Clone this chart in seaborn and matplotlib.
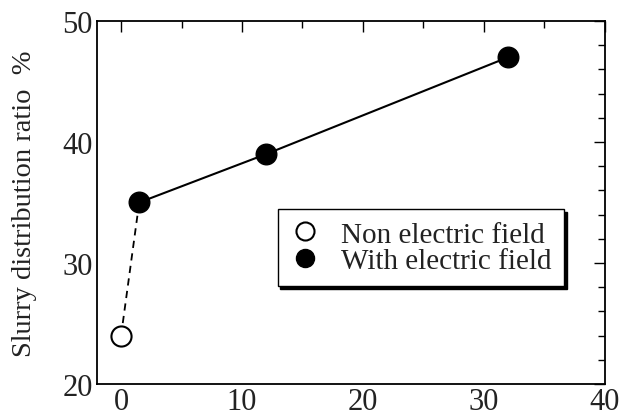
import matplotlib
matplotlib.use("Agg")
import matplotlib.pyplot as plt
import seaborn as sns
import pandas as pd
from matplotlib.lines import Line2D
from matplotlib.ticker import MultipleLocator

# Data
non_x = [0]
non_y = [24]
with_x = [1.5, 12, 32]
with_y = [35, 39, 47]
xticks = [0, 10, 20, 30, 40]
yticks = [20, 30, 40, 50]

sns.set_theme(style="white")
plt.rcParams['font.family'] = ['Liberation Serif', 'DejaVu Serif']
plt.rcParams['mathtext.fontset'] = 'stix'

fig = plt.figure(figsize=(6.21, 4.14), dpi=100)
ax = fig.add_axes([0.156, 0.070, 0.818, 0.877])

dash_df = pd.DataFrame({"x": [non_x[0], with_x[0]], "y": [non_y[0], with_y[0]]})
sns.lineplot(data=dash_df, x="x", y="y", ax=ax, color="black", linestyle=(0, (4, 3)),
             linewidth=1.3, sort=False)
with_df = pd.DataFrame({"x": with_x, "y": with_y})
sns.lineplot(data=with_df, x="x", y="y", ax=ax, color="black", linewidth=1.5, sort=False)
sns.scatterplot(data=with_df, x="x", y="y", ax=ax, color="black", s=220,
                edgecolor="black", linewidth=1, zorder=5)
non_df = pd.DataFrame({"x": non_x, "y": non_y})
sns.scatterplot(data=non_df, x="x", y="y", ax=ax, color="white", s=210,
                edgecolor="black", linewidth=1.5, zorder=5)

ax.set_xlim(-2, 40)
ax.set_ylim(20, 50)
ax.set_xticks(xticks)
ax.set_yticks(yticks)
ax.xaxis.set_minor_locator(MultipleLocator(5))
ax.yaxis.set_minor_locator(MultipleLocator(2))
ax.tick_params(which='both', direction='in', top=True, right=True, color='black',
               width=1.0)
ax.tick_params(which='major', length=8, labelsize=22, pad=3)
ax.tick_params(axis='x', which='major', pad=2)
ax.tick_params(which='minor', length=5)
for s in ax.spines.values():
    s.set_color('black')
    s.set_linewidth(1.3)

ax.set_xlabel("")
ax.set_ylabel("Slurry distribution ratio  %", fontsize=20.5, color='#222222', labelpad=18)
for lab in ax.get_xticklabels() + ax.get_yticklabels():
    lab.set_color('#222222')

handles = [
    Line2D([], [], marker='o', linestyle='none', markerfacecolor='white',
           markeredgecolor='black', markersize=13, markeredgewidth=1.5),
    Line2D([], [], marker='o', linestyle='none', markerfacecolor='black',
           markeredgecolor='black', markersize=13),
]
leg = ax.legend(handles, ["Non electric field", "With electric field"],
                loc='upper left', bbox_to_anchor=(0.356, 0.482), fontsize=21,
                frameon=True, fancybox=False, shadow={'color': 'black', 'alpha': 1},
                edgecolor='black', handletextpad=0.75, labelspacing=0.0,
                borderpad=0.42, handlelength=1.0, borderaxespad=0)
leg.get_frame().set_linewidth(1.0)
for t in leg.get_texts():
    t.set_color('#222222')

fig.savefig("out.png", dpi=100)
